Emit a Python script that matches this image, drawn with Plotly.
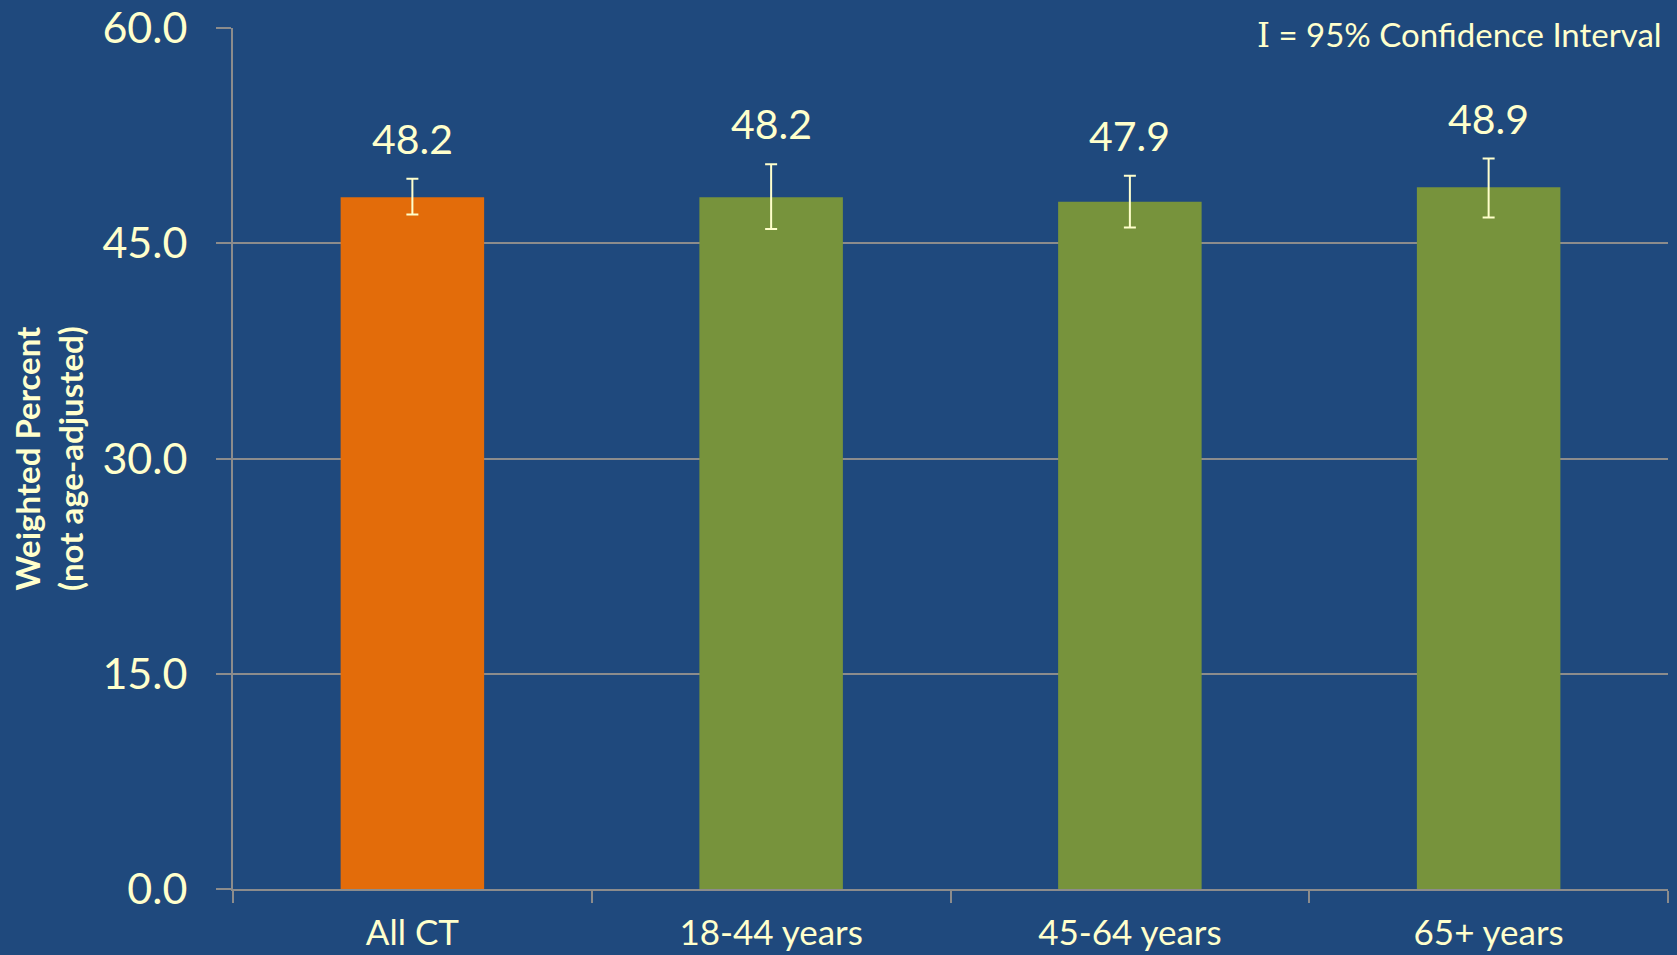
import plotly.graph_objects as go

categories = ["All CT", "18-44 years", "45-64 years", "65+ years"]
values = [48.2, 48.2, 47.9, 48.9]
ci_upper = [49.5, 50.5, 49.7, 50.9]
ci_lower = [47.0, 46.0, 46.1, 46.8]
bar_colors = ["#E36C0A", "#77933C", "#77933C", "#77933C"]
y_ticks = [0, 15, 30, 45, 60]
y_ticktext = ["0.0", "15.0", "30.0", "45.0", "60.0"]

BG = "#1F497D"
TXT = "#FFFFCC"
GRID = "#8C8C8C"
FONT = "Lato"

err_plus = [u - v for u, v in zip(ci_upper, values)]
err_minus = [v - l for v, l in zip(values, ci_lower)]

fig = go.Figure()
fig.add_trace(go.Bar(
    x=categories, y=values, width=0.4,
    marker=dict(color=bar_colors, line=dict(width=0)),
    error_y=dict(type="data", symmetric=False, array=err_plus, arrayminus=err_minus,
                 color=TXT, thickness=2, width=6),
    showlegend=False, hoverinfo="skip",
))

for c, v, u in zip(categories, values, ci_upper):
    fig.add_annotation(x=c, y=u, xref="x", yref="y", text=f"{v:.1f}",
                       showarrow=False, yanchor="bottom", yshift=14,
                       font=dict(family=FONT, size=41, color=TXT))

fig.add_annotation(
    xref="paper", yref="paper", x=1.0, y=1.0, xanchor="right", yanchor="middle", xshift=-4, yshift=-6,
    text='<span style="font-family:\'DejaVu Serif\'">I</span> = 95% Confidence Interval',
    showarrow=False, font=dict(family=FONT, size=33, color=TXT))

fig.add_annotation(
    xref="paper", yref="paper", x=0, y=0.5, xanchor="right", yanchor="middle", xshift=-141,
    text="<b>Weighted Percent</b><br><b>(not age-adjusted)</b>", textangle=-90,
    showarrow=False, font=dict(family=FONT, size=33, color=TXT))

fig.update_layout(
    width=1677, height=955,
    paper_bgcolor=BG, plot_bgcolor=BG,
    margin=dict(l=233, r=9, t=28, b=66, autoexpand=False),
    bargap=0.6,
    font=dict(family=FONT, color=TXT),
)
fig.update_xaxes(
    type="category", range=[-0.5, 3.5], automargin=False,
    showline=True, linecolor=GRID, linewidth=2,
    ticks="outside", tickson="boundaries", ticklen=12, tickcolor=GRID, tickwidth=2,
    tickfont=dict(family=FONT, size=35, color=TXT), ticklabelstandoff=12,
    showgrid=False,
)
fig.update_yaxes(
    range=[0, 60], tickvals=y_ticks, ticktext=y_ticktext, automargin=False,
    showline=True, linecolor=GRID, linewidth=2,
    ticks="outside", ticklen=15, tickcolor=GRID, tickwidth=2,
    showgrid=True, gridcolor=GRID, gridwidth=2, zeroline=False,
    tickfont=dict(family=FONT, size=43, color=TXT), ticklabelstandoff=20,
)

fig.write_html("out.html", config={"displayModeBar": False},
               post_script="document.body.style.margin='0';document.body.style.overflow='hidden';document.body.style.background='" + BG + "';")
